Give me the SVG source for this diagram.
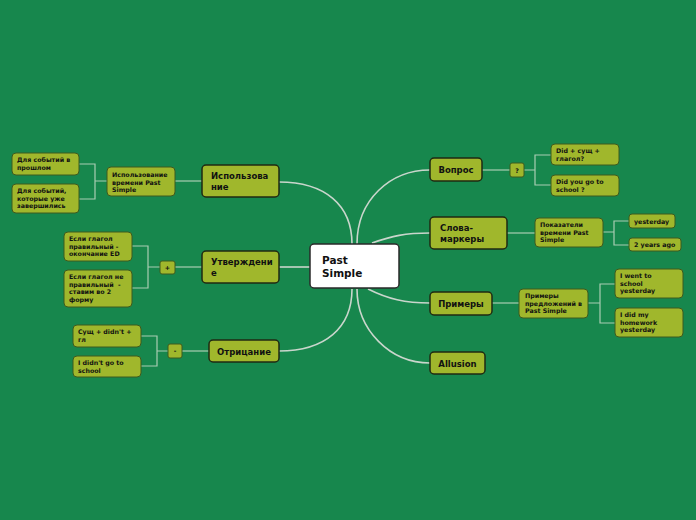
<svg xmlns="http://www.w3.org/2000/svg" width="696" height="520" viewBox="0 0 696 520">
<style>
.main{fill:#a0b72c;stroke:#1f2a12;stroke-width:1.5}
.sub{fill:#a0b72c;stroke:#3d5a1e;stroke-width:1}
.center{fill:#ffffff;stroke:#2a2a2a;stroke-width:1.5}
.curve{fill:none;stroke:#c9d6cc;stroke-width:1.6}
.el{fill:none;stroke:#a9cdb3;stroke-width:1.2}
text{font-family:"DejaVu Sans","Liberation Sans",sans-serif;font-weight:bold;fill:#111}
.tm{font-size:8.5px}
.ts{font-size:6.3px}
.tc{font-size:10.5px}
</style>
<rect x="0" y="0" width="696" height="520" fill="#17874d"/>
<g id="connectors">
<path class="curve" d="M279,182 C325,182 352,205 352,244"/>
<path class="curve" d="M279,267 L310,267"/>
<path class="curve" d="M279,351 C325,351 352,328 352,289"/>
<path class="curve" d="M357,244 C357,200 390,170 430,170"/>
<path class="curve" d="M372,243 C392,236 405,233 430,233"/>
<path class="curve" d="M368,289 C388,299 405,303 430,303"/>
<path class="curve" d="M357,289 C357,330 390,363 430,363"/>
<path class="el" d="M202,181 L175,181"/>
<path class="el" d="M107,181 L95,181 M79,164 L95,164 L95,199 L79,199"/>
<path class="el" d="M202,267 L175,267"/>
<path class="el" d="M160,267 L148,267 M132,246 L148,246 L148,288 L132,288"/>
<path class="el" d="M209,351 L182,351"/>
<path class="el" d="M168,351 L157,351 M141,336 L157,336 L157,366 L141,366"/>
<path class="el" d="M482,170 L510,170"/>
<path class="el" d="M524,170 L535,170 M551,155 L535,155 L535,185 L551,185"/>
<path class="el" d="M507,233 L535,233"/>
<path class="el" d="M603,232 L614,232 M629,221 L614,221 L614,245 L629,245"/>
<path class="el" d="M492,303 L520,303"/>
<path class="el" d="M588,303 L600,303 M615,284 L600,284 L600,323 L615,323"/>
</g>
<g id="center">
<rect class="center" x="310" y="244" width="89" height="44" rx="4"/>
<text class="tc" x="322" y="264">Past</text>
<text class="tc" x="322" y="277">Simple</text>
</g>
<g id="ispolzovanie">
<rect class="main" x="202" y="165" width="77" height="32" rx="4"/>
<text class="tm" x="211" y="179">Использова</text>
<text class="tm" x="211" y="190">ние</text>
</g>
<g id="ispolzovanie-vremeni">
<rect class="sub" x="107" y="167" width="68" height="29" rx="4"/>
<text class="ts" x="112" y="177">Использование</text>
<text class="ts" x="112" y="184.5">времени Past</text>
<text class="ts" x="112" y="192">Simple</text>
</g>
<g id="dlya-sobytiy-proshlom">
<rect class="sub" x="12" y="153" width="67" height="22" rx="4"/>
<text class="ts" x="17" y="162">Для событий в</text>
<text class="ts" x="17" y="170">прошлом</text>
</g>
<g id="dlya-sobytiy-zavershilis">
<rect class="sub" x="12" y="184" width="67" height="29" rx="4"/>
<text class="ts" x="17" y="193">Для событий,</text>
<text class="ts" x="17" y="200.5">которые уже</text>
<text class="ts" x="17" y="208">завершились</text>
</g>
<g id="utverzhdenie">
<rect class="main" x="202" y="251" width="77" height="32" rx="4"/>
<text class="tm" x="211" y="265">Утверждени</text>
<text class="tm" x="211" y="276">е</text>
</g>
<g id="plus">
<rect class="sub" x="160" y="261" width="15" height="13" rx="2"/>
<text class="ts" x="167.5" y="270" text-anchor="middle">+</text>
</g>
<g id="esli-pravilny">
<rect class="sub" x="64" y="232" width="68" height="29" rx="4"/>
<text class="ts" x="69" y="241">Если глагол</text>
<text class="ts" x="69" y="248.5">правильный -</text>
<text class="ts" x="69" y="256">окончание ED</text>
</g>
<g id="esli-nepravilny">
<rect class="sub" x="64" y="270" width="68" height="37" rx="4"/>
<text class="ts" x="69" y="279">Если глагол не</text>
<text class="ts" x="69" y="286.5" xml:space="preserve">правильный  -</text>
<text class="ts" x="69" y="294">ставим во 2</text>
<text class="ts" x="69" y="301.5">форму</text>
</g>
<g id="otricanie">
<rect class="main" x="209" y="340" width="70" height="22" rx="4"/>
<text class="tm" x="244" y="354.5" text-anchor="middle">Отрицание</text>
</g>
<g id="minus">
<rect class="sub" x="168" y="344" width="14" height="14" rx="2"/>
<text class="ts" x="175" y="353" text-anchor="middle">-</text>
</g>
<g id="sushch-didnt">
<rect class="sub" x="73" y="325" width="68" height="22" rx="4"/>
<text class="ts" x="78" y="334">Сущ + didn't +</text>
<text class="ts" x="78" y="341.5">гл</text>
</g>
<g id="i-didnt-go">
<rect class="sub" x="73" y="356" width="68" height="21" rx="4"/>
<text class="ts" x="78" y="365">I didn't go to</text>
<text class="ts" x="78" y="372.5">school</text>
</g>
<g id="vopros">
<rect class="main" x="430" y="158" width="52" height="23" rx="4"/>
<text class="tm" x="456" y="173" text-anchor="middle">Вопрос</text>
</g>
<g id="question">
<rect class="sub" x="510" y="163" width="14" height="14" rx="2"/>
<text class="ts" x="517" y="172.5" text-anchor="middle">?</text>
</g>
<g id="did-sushch">
<rect class="sub" x="551" y="144" width="68" height="21" rx="4"/>
<text class="ts" x="556" y="153">Did + сущ +</text>
<text class="ts" x="556" y="160.5">глагол?</text>
</g>
<g id="did-you-go">
<rect class="sub" x="551" y="175" width="68" height="21" rx="4"/>
<text class="ts" x="556" y="184">Did you go to</text>
<text class="ts" x="556" y="191.5">school ?</text>
</g>
<g id="slova-markery">
<rect class="main" x="430" y="217" width="77" height="32" rx="4"/>
<text class="tm" x="440" y="231">Слова-</text>
<text class="tm" x="440" y="242">маркеры</text>
</g>
<g id="pokazateli">
<rect class="sub" x="535" y="218" width="68" height="29" rx="4"/>
<text class="ts" x="540" y="227">Показатели</text>
<text class="ts" x="540" y="234.5">времени Past</text>
<text class="ts" x="540" y="242">Simple</text>
</g>
<g id="yesterday">
<rect class="sub" x="629" y="214" width="46" height="14" rx="3"/>
<text class="ts" x="634" y="223.5">yesterday</text>
</g>
<g id="two-years-ago">
<rect class="sub" x="629" y="238" width="52" height="13" rx="3"/>
<text class="ts" x="634" y="247">2 years ago</text>
</g>
<g id="primery">
<rect class="main" x="430" y="292" width="62" height="23" rx="4"/>
<text class="tm" x="461" y="307" text-anchor="middle">Примеры</text>
</g>
<g id="primery-predlozheniy">
<rect class="sub" x="519" y="289" width="69" height="29" rx="4"/>
<text class="ts" x="525" y="298">Примеры</text>
<text class="ts" x="525" y="305.5">предложений в</text>
<text class="ts" x="525" y="313">Past Simple</text>
</g>
<g id="i-went">
<rect class="sub" x="615" y="269" width="68" height="29" rx="4"/>
<text class="ts" x="620" y="278">I went to</text>
<text class="ts" x="620" y="285.5">school</text>
<text class="ts" x="620" y="293">yesterday</text>
</g>
<g id="i-did">
<rect class="sub" x="615" y="308" width="68" height="29" rx="4"/>
<text class="ts" x="620" y="317">I did my</text>
<text class="ts" x="620" y="324.5">homework</text>
<text class="ts" x="620" y="332">yesterday</text>
</g>
<g id="allusion">
<rect class="main" x="430" y="352" width="55" height="22" rx="4"/>
<text class="tm" x="457.5" y="366.5" text-anchor="middle">Allusion</text>
</g>
</svg>
